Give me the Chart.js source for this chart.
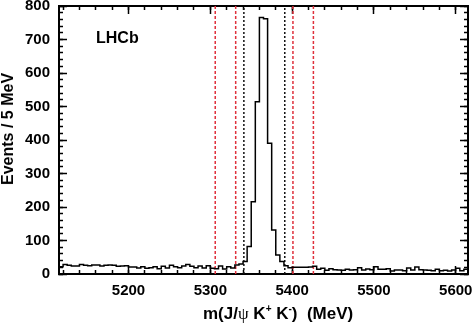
<!DOCTYPE html>
<html>
<head>
<meta charset="utf-8">
<script src="https://cdn.jsdelivr.net/npm/chart.js@4"></script>
<style>
  html, body { margin: 0; padding: 0; background: #fff; }
  #wrap { position: relative; width: 474px; height: 324px; }
  #massChart { display: block; }
  .txt {
    position: absolute;
    font-family: "Liberation Sans", Arial, Helvetica, sans-serif;
    font-weight: bold;
    color: #000;
    white-space: nowrap;
  }
  #lhcb { left: 96px; top: 30px; font-size: 16px; line-height: 16px; }
  #ytitle {
    left: 8px; top: 129px; font-size: 16px; line-height: 16px;
    transform: translate(-50%, -50%) rotate(-90deg);
  }
  #xtitle { left: 203px; top: 304px; font-size: 17px; line-height: 20px; }
  #xtitle .psi { font-family: "Liberation Serif", serif; font-weight: normal; }
  #xtitle .sup { font-size: 10px; position: relative; top: -7px; }
</style>
</head>
<body>
<div id="wrap">
  <canvas id="massChart" width="474" height="324"></canvas>
  <div class="txt" id="lhcb">LHCb</div>
  <div class="txt" id="ytitle">Events / 5 MeV</div>
  <div class="txt" id="xtitle">m(J/<span class="psi">&psi;</span> K<span class="sup">+</span> K<span class="sup">-</span>)&nbsp;&nbsp;(MeV)</div>
</div>
<script>
/* ======================
   DATA
====================== */
const binLow = 5115;
const binWidth = 5;
const binHigh = 5615;

// events per 5 MeV bin, 5115 .. 5615
const events = [
  22, 28, 26, 24, 24, 28, 26, 25, 27, 27,
  24, 26, 27, 26, 23, 24, 25, 21, 21, 18,
  22, 17, 19, 22, 16, 23, 18, 26, 22, 19,
  24, 28, 23, 19, 24, 18, 25, 17, 16, 24,
  15, 22, 18, 27, 30, 37, 82, 216, 514, 766,
  762, 390, 131, 57, 37, 25, 19, 20, 20, 20,
  20, 21, 23, 14, 17, 11, 16, 13, 12, 11,
  14, 12, 13, 19, 12, 15, 13, 22, 14, 14,
  16, 9, 12, 12, 10, 18, 12, 21, 13, 12,
  11, 10, 14, 10, 11, 9, 12, 17, 10, 14
];

const redCuts = [5306, 5331, 5401, 5426];
const blackCuts = [5341, 5391];

const xTickLabels = [5200, 5300, 5400, 5500, 5600];
const yTickLabels = [0, 100, 200, 300, 400, 500, 600, 700, 800];

// minor ticks every 20
const xMinorTicks = [];
for (let v = 5120; v <= 5600; v += 20) xMinorTicks.push(v);
const yMinorTicks = [];
for (let v = 0; v <= 800; v += 20) yMinorTicks.push(v);

/* ======================
   DATASETS
====================== */
const histPoints = [{ x: binLow, y: 0 }];
events.forEach((v, i) => histPoints.push({ x: binLow + i * binWidth, y: v }));
histPoints.push({ x: binHigh, y: events[events.length - 1] });
histPoints.push({ x: binHigh, y: 0 });

function cutLine(x, color, dash) {
  return {
    data: [{ x: x, y: 0 }, { x: x, y: 800 }],
    borderColor: color,
    borderWidth: 1.5,
    borderDash: dash,
    pointRadius: 0
  };
}

const FONT = '"Liberation Sans", Arial, Helvetica, sans-serif';

/* ======================
   AXES (frame + inward ticks)
====================== */
function frameAxis({ position, isX, values, tickLen, size, weight, border, labels, pad }) {
  return {
    type: "linear",
    position: position,
    axis: isX ? "x" : "y",
    min: isX ? binLow : 0,
    max: isX ? binHigh : 800,
    weight: weight,
    grid: {
      display: true,
      drawOnChartArea: false,
      drawTicks: true,
      tickLength: -tickLen,
      tickColor: "#000",
      tickWidth: 1.5
    },
    border: { display: border, color: "#000", width: 2 },
    afterBuildTicks: s => { s.ticks = values.map(v => ({ value: v })); },
    afterFit: s => {
      if (isX) s.height = size; else s.width = size;
      s.paddingLeft = 0; s.paddingRight = 0; s.paddingTop = 0; s.paddingBottom = 0;
    },
    ticks: labels ? {
      display: true,
      color: "#000",
      font: { family: FONT, size: 15, weight: "bold" },
      padding: pad,
      maxRotation: 0,
      autoSkip: false,
      callback: v => String(v)
    } : { display: false }
  };
}

/* ======================
   CHART
====================== */
new Chart(document.getElementById("massChart"), {
  type: "line",
  data: {
    datasets: [
      {
        data: histPoints,
        borderColor: "#000",
        borderWidth: 1.5,
        stepped: "before",
        pointRadius: 0,
        fill: false
      },
      ...redCuts.map(c => cutLine(c, "#e0303c", [3, 2])),
      ...blackCuts.map(c => cutLine(c, "#111", [2, 2]))
    ]
  },
  options: {
    responsive: false,
    animation: false,
    devicePixelRatio: 1,
    layout: { padding: { top: 6, right: 6, left: 0, bottom: 0 } },
    plugins: { legend: { display: false }, tooltip: { enabled: false } },
    scales: {
      x: frameAxis({ position: "bottom", isX: true, values: xTickLabels, tickLen: 8, size: 50, weight: 1, border: true, labels: true, pad: 16 }),
      xMinor: frameAxis({ position: "bottom", isX: true, values: xMinorTicks, tickLen: 4, size: 0, weight: 0, border: false }),
      xTop: frameAxis({ position: "top", isX: true, values: xTickLabels, tickLen: 8, size: 0, weight: 1, border: true }),
      xTopMinor: frameAxis({ position: "top", isX: true, values: xMinorTicks, tickLen: 4, size: 0, weight: 0, border: false }),
      y: frameAxis({ position: "left", isX: false, values: yTickLabels, tickLen: 8, size: 59, weight: 1, border: true, labels: true, pad: 17 }),
      yMinor: frameAxis({ position: "left", isX: false, values: yMinorTicks, tickLen: 4, size: 0, weight: 0, border: false }),
      yRight: frameAxis({ position: "right", isX: false, values: yTickLabels, tickLen: 8, size: 0, weight: 1, border: true }),
      yRightMinor: frameAxis({ position: "right", isX: false, values: yMinorTicks, tickLen: 4, size: 0, weight: 0, border: false })
    }
  }
});
</script>
</body>
</html>
